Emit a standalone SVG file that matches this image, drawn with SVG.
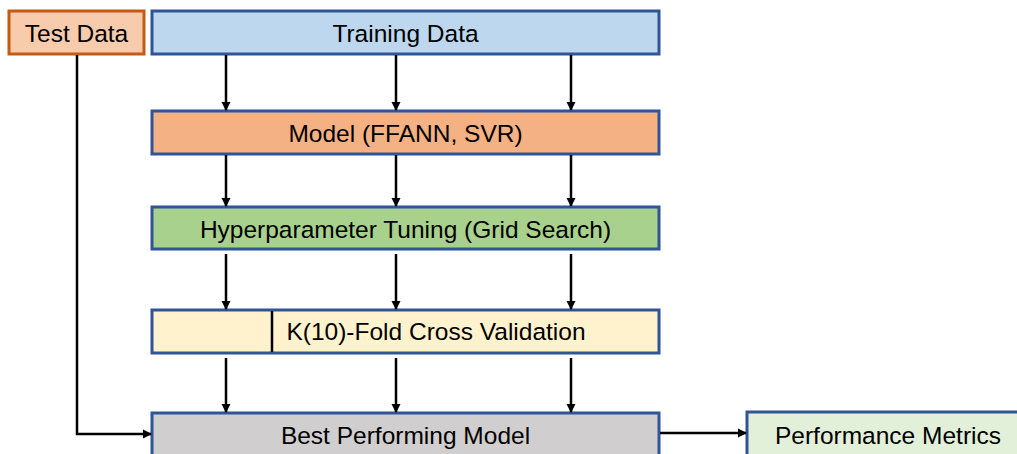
<svg xmlns="http://www.w3.org/2000/svg" width="1017" height="454" viewBox="0 0 1017 454">
<style>
.b{stroke:#2F5597;stroke-width:3}
.t{font-family:"Liberation Sans",Arial,sans-serif;font-size:24.5px;fill:#000;text-anchor:middle;dominant-baseline:central}
.c{stroke:#000;stroke-width:2.5;fill:none}
</style>
<defs>
<marker id="ah" markerWidth="10" markerHeight="10" refX="8" refY="5" orient="auto" markerUnits="userSpaceOnUse">
<path d="M0,0.5 L9,5 L0,9.5 Z" fill="#000"/>
</marker>
</defs>
<rect width="1017" height="454" fill="#fff"/>
<g id="test-data">
<rect x="9" y="11" width="135" height="43" fill="#F8CBAD" stroke="#C55A11" stroke-width="3"/>
<text class="t" x="76.5" y="33">Test Data</text>
</g>
<g id="training-data">
<rect class="b" x="152" y="11" width="507" height="43" fill="#BDD7EE"/>
<text class="t" x="405.5" y="33">Training Data</text>
</g>
<g id="model">
<rect class="b" x="152" y="111" width="507" height="43" fill="#F4B183"/>
<text class="t" x="405.5" y="133">Model (FFANN, SVR)</text>
</g>
<g id="tuning">
<rect class="b" x="152" y="207" width="507" height="42" fill="#A9D18E"/>
<text class="t" x="405.5" y="229">Hyperparameter Tuning (Grid Search)</text>
</g>
<g id="kfold">
<rect class="b" x="152" y="310" width="507" height="43" fill="#FFF2CC"/>
<line x1="272" y1="311" x2="272" y2="352" stroke="#000" stroke-width="2.5"/>
<text class="t" x="436" y="331">K(10)-Fold Cross Validation</text>
</g>
<g id="best">
<rect class="b" x="152" y="413" width="507" height="50" fill="#D0CECE"/>
<text class="t" x="405.5" y="435">Best Performing Model</text>
</g>
<g id="metrics">
<rect class="b" x="747" y="412" width="280" height="50" fill="#E2F0D9"/>
<text class="t" x="888" y="435">Performance Metrics</text>
</g>
<g id="connectors">
<line class="c" x1="226" y1="55" x2="226" y2="110" marker-end="url(#ah)"/>
<line class="c" x1="396" y1="55" x2="396" y2="110" marker-end="url(#ah)"/>
<line class="c" x1="571" y1="55" x2="571" y2="110" marker-end="url(#ah)"/>
<line class="c" x1="226" y1="155" x2="226" y2="206" marker-end="url(#ah)"/>
<line class="c" x1="396" y1="155" x2="396" y2="206" marker-end="url(#ah)"/>
<line class="c" x1="571" y1="155" x2="571" y2="206" marker-end="url(#ah)"/>
<line class="c" x1="226" y1="254" x2="226" y2="309" marker-end="url(#ah)"/>
<line class="c" x1="396" y1="254" x2="396" y2="309" marker-end="url(#ah)"/>
<line class="c" x1="571" y1="254" x2="571" y2="309" marker-end="url(#ah)"/>
<line class="c" x1="226" y1="358" x2="226" y2="412" marker-end="url(#ah)"/>
<line class="c" x1="396" y1="358" x2="396" y2="412" marker-end="url(#ah)"/>
<line class="c" x1="571" y1="358" x2="571" y2="412" marker-end="url(#ah)"/>
<polyline class="c" points="77,55 77,434 151,434" marker-end="url(#ah)"/>
<line class="c" x1="660" y1="433" x2="746" y2="433" marker-end="url(#ah)"/>
</g>
</svg>
